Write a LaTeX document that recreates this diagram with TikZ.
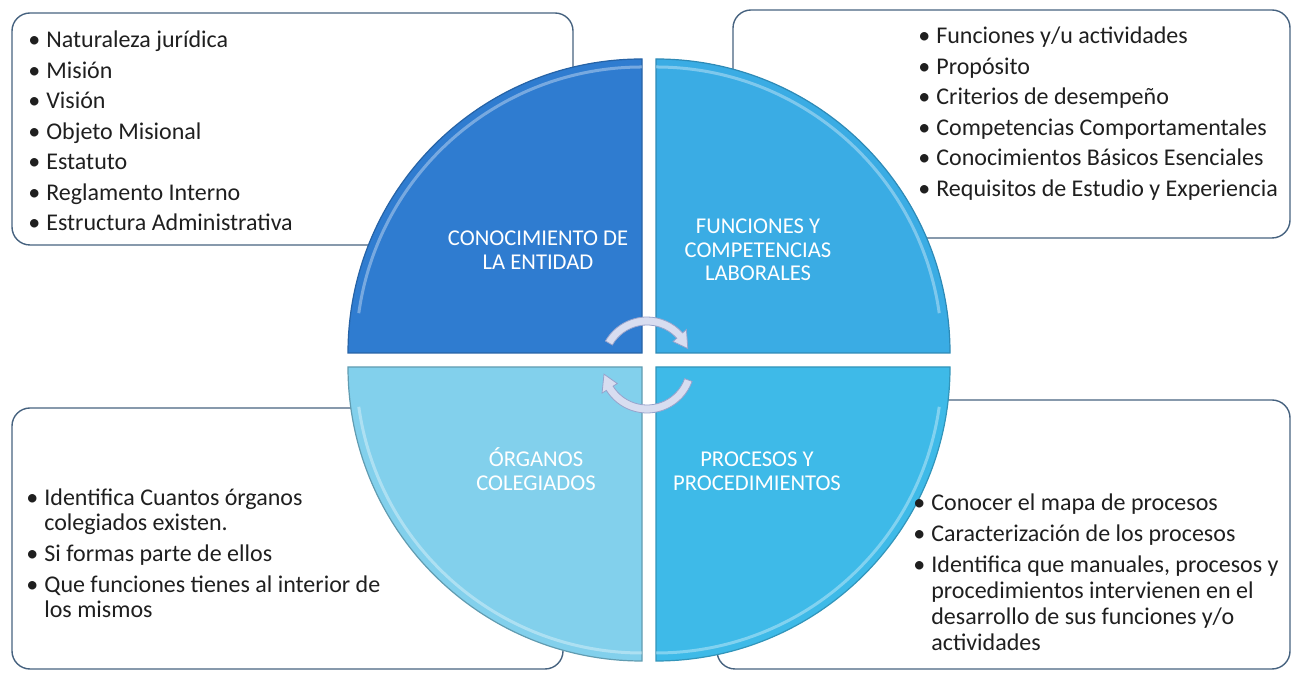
\documentclass[tikz,border=0pt]{standalone}
\usepackage{fontspec}
\setmainfont{Carlito}

\definecolor{boxLine}{HTML}{46627F}
\definecolor{entidadBlue}{HTML}{2F7CD0}
\definecolor{funcionesBlue}{HTML}{3AACE4}
\definecolor{organosBlue}{HTML}{82D0EC}
\definecolor{procesosBlue}{HTML}{3EBAE8}
\definecolor{arrowFill}{HTML}{D8DDF0}
\definecolor{arrowLine}{HTML}{97A3CC}

\tikzset{
  listbox/.style={draw=boxLine, line width=0.7pt, rounded corners=9pt},
  listtxt/.style={anchor=base west, inner sep=0pt, text=black!88,
    font=\fontsize{12}{15.25}\selectfont},
  quadlbl/.style={text=white, align=center, inner sep=0pt,
    font=\fontsize{11.3}{11.75}\selectfont},
  cyclearrow/.style={fill=arrowFill, draw=arrowLine, line width=0.4pt},
  shine/.style={draw=white, opacity=0.35, line width=1.5pt}
}

\begin{document}
\begin{tikzpicture}[x=0.5pt, y=0.5pt]
      \useasboundingbox (0,0) rectangle (1293,673);

      % boxes behind the circle
      \draw[listbox] (12,428)  rectangle (573,660);
      \draw[listbox] (733,435) rectangle (1290,663);
      \draw[listbox] (12,4)    rectangle (563,265);
      \draw[listbox] (717,4)   rectangle (1290,273);

      % the four quarters
      \begin{scope}[shift={(649,313)}]
        \filldraw[fill=entidadBlue, draw=entidadBlue!80!black, line width=0.6pt]
          (-7,7) -- (-301,7) arc[start angle=180, end angle=90, radius=294] -- cycle;
        \filldraw[fill=funcionesBlue, draw=funcionesBlue!80!black, line width=0.6pt]
          (7,7) -- (7,301) arc[start angle=90, end angle=0, radius=294] -- cycle;
        \filldraw[fill=procesosBlue, draw=procesosBlue!80!black, line width=0.6pt]
          (7,-7) -- (301,-7) arc[start angle=0, end angle=-90, radius=294] -- cycle;
        \filldraw[fill=organosBlue, draw=organosBlue!75!black, line width=0.6pt]
          (-7,-7) -- (-7,-301) arc[start angle=270, end angle=180, radius=294] -- cycle;

        \draw[shine] (-7,293) arc[start angle=90, end angle=172, radius=286];
        \draw[shine] (7,293)  arc[start angle=90, end angle=8, radius=286];
        \draw[shine] (-7,-293) arc[start angle=270, end angle=188, radius=286];
        \draw[shine] (7,-293)  arc[start angle=270, end angle=352, radius=286];
      \end{scope}

      % cycle arrows
      \begin{scope}[shift={(647,308)}]
        \filldraw[cyclearrow] (150:48) arc[start angle=150, end angle=42, radius=48]
          -- (42:53) -- (22:44) -- (42:35) -- (42:40)
          arc[start angle=42, end angle=150, radius=40] -- cycle;
        \filldraw[cyclearrow] (-20:48) arc[start angle=-20, end angle=-148, radius=48]
          -- (-148:53) -- (-168:44) -- (-148:35) -- (-148:40)
          arc[start angle=-148, end angle=-20, radius=40] -- cycle;
      \end{scope}

      % quarter labels
      \node[quadlbl] (entidadLbl)   at (538,423) {CONOCIMIENTO DE\\LA ENTIDAD};
      \node[quadlbl] (funcionesLbl) at (758,423) {FUNCIONES Y\\COMPETENCIAS\\LABORALES};
      \node[quadlbl] (organosLbl)   at (536,204) {ÓRGANOS\\COLEGIADOS};
      \node[quadlbl] (procesosLbl)  at (757,202) {PROCESOS Y\\PROCEDIMIENTOS};

      % lists
      \node[listtxt] (entidadTxt) at (28,625) {%
        \begin{tabular}[t]{@{}c@{\hspace{3pt}}l@{}}
          • & Naturaleza jurídica\\
          • & Misión\\
          • & Visión\\
          • & Objeto Misional\\
          • & Estatuto\\
          • & Reglamento Interno\\
          • & Estructura Administrativa
        \end{tabular}};

      \node[listtxt] (funcionesTxt) at (918,629) {%
        \begin{tabular}[t]{@{}c@{\hspace{3pt}}l@{}}
          • & Funciones y/u actividades\\
          • & Propósito\\
          • & Criterios de desempeño\\
          • & Competencias Comportamentales\\
          • & Conocimientos Básicos Esenciales\\
          • & Requisitos de Estudio y Experiencia
        \end{tabular}};

      \node[listtxt, font=\fontsize{12}{12.5}\selectfont] (organosTxt) at (26,167) {%
        \begin{tabular}[t]{@{}c@{\hspace{3pt}}l@{}}
          • & Identifica Cuantos órganos\\
            & colegiados existen.\\[3pt]
          • & Si formas parte de ellos\\[3pt]
          • & Que funciones tienes al interior de\\
            & los mismos
        \end{tabular}};

      \node[listtxt, font=\fontsize{12}{13}\selectfont] (procesosTxt) at (913,162) {%
        \begin{tabular}[t]{@{}c@{\hspace{3pt}}l@{}}
          • & Conocer el mapa de procesos\\[2.5pt]
          • & Caracterización de los procesos\\[2.5pt]
          • & Identifica que manuales, procesos y\\
            & procedimientos intervienen en el\\
            & desarrollo de sus funciones y/o\\
            & actividades
        \end{tabular}};
\end{tikzpicture}
\end{document}
